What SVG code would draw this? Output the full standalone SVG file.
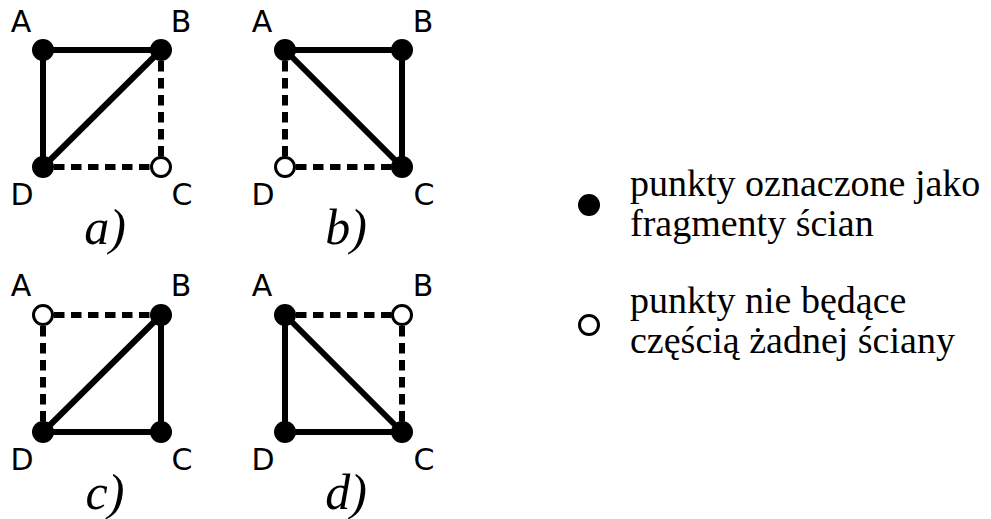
<svg xmlns="http://www.w3.org/2000/svg" width="991" height="519" viewBox="0 0 991 519">
<style>
.s{stroke:#000;stroke-width:6;fill:none}
.d{stroke:#000;stroke-width:6;fill:none;stroke-dasharray:10.5 6.5}
.f{fill:#000}
.o{fill:#fff;stroke:#000;stroke-width:3}
.lab{font-family:"DejaVu Sans",sans-serif;font-size:30px;fill:#000;text-anchor:middle}
.cap{font-family:"Liberation Serif",serif;font-style:italic;font-size:50px;fill:#000;text-anchor:middle}
.leg{font-family:"Liberation Serif",serif;font-size:38px;fill:#000}
</style>
<rect width="991" height="519" fill="#fff"/>
<g id="connectors">
<line class="s" x1="43" y1="50" x2="161" y2="50"/>
<line class="s" x1="43" y1="50" x2="43" y2="167"/>
<line class="s" x1="43" y1="167" x2="161" y2="50"/>
<line class="d" x1="161" y1="61" x2="161" y2="167"/>
<line class="d" x1="54" y1="167" x2="161" y2="167"/>
<line class="s" x1="285" y1="50" x2="402" y2="50"/>
<line class="s" x1="402" y1="50" x2="402" y2="167"/>
<line class="s" x1="285" y1="50" x2="402" y2="167"/>
<line class="d" x1="285" y1="61" x2="285" y2="167"/>
<line class="d" x1="296" y1="167" x2="402" y2="167"/>
<line class="d" x1="54" y1="315" x2="161" y2="315"/>
<line class="d" x1="43" y1="326" x2="43" y2="432"/>
<line class="s" x1="43" y1="432" x2="161" y2="315"/>
<line class="s" x1="161" y1="315" x2="161" y2="432"/>
<line class="s" x1="43" y1="432" x2="161" y2="432"/>
<line class="d" x1="296" y1="315" x2="402" y2="315"/>
<line class="d" x1="402" y1="326" x2="402" y2="432"/>
<line class="s" x1="285" y1="315" x2="402" y2="432"/>
<line class="s" x1="285" y1="315" x2="285" y2="432"/>
<line class="s" x1="285" y1="432" x2="402" y2="432"/>
</g>
<g id="panel-a">
<circle class="f" cx="43" cy="50" r="11"/>
<circle class="f" cx="161" cy="50" r="11"/>
<circle class="f" cx="43" cy="167" r="11"/>
<circle class="o" cx="161" cy="167" r="9.5"/>
<text class="lab" x="21" y="32">A</text>
<text class="lab" x="181" y="32">B</text>
<text class="lab" x="22" y="205">D</text>
<text class="lab" x="182" y="205">C</text>
<text class="cap" x="105" y="244">a)</text>
</g>
<g id="panel-b">
<circle class="f" cx="285" cy="50" r="11"/>
<circle class="f" cx="402" cy="50" r="11"/>
<circle class="o" cx="285" cy="167" r="9.5"/>
<circle class="f" cx="402" cy="167" r="11"/>
<text class="lab" x="262" y="32">A</text>
<text class="lab" x="423" y="32">B</text>
<text class="lab" x="263" y="205">D</text>
<text class="lab" x="424" y="205">C</text>
<text class="cap" x="346" y="244">b)</text>
</g>
<g id="panel-c">
<circle class="o" cx="43" cy="315" r="9.5"/>
<circle class="f" cx="161" cy="315" r="11"/>
<circle class="f" cx="43" cy="432" r="11"/>
<circle class="f" cx="161" cy="432" r="11"/>
<text class="lab" x="21" y="296">A</text>
<text class="lab" x="181" y="296">B</text>
<text class="lab" x="22" y="470">D</text>
<text class="lab" x="182" y="470">C</text>
<text class="cap" x="105" y="509">c)</text>
</g>
<g id="panel-d">
<circle class="f" cx="285" cy="315" r="11"/>
<circle class="o" cx="402" cy="315" r="9.5"/>
<circle class="f" cx="285" cy="432" r="11"/>
<circle class="f" cx="402" cy="432" r="11"/>
<text class="lab" x="262" y="296">A</text>
<text class="lab" x="423" y="296">B</text>
<text class="lab" x="263" y="470">D</text>
<text class="lab" x="424" y="470">C</text>
<text class="cap" x="346" y="509">d)</text>
</g>
<g id="legend-filled">
<circle class="f" cx="589" cy="205" r="11"/>
<text class="leg" x="630" y="196">punkty oznaczone jako</text>
<text class="leg" x="630" y="236">fragmenty ścian</text>
</g>
<g id="legend-open">
<circle class="o" cx="589" cy="325" r="9.5"/>
<text class="leg" x="630" y="313">punkty nie będące</text>
<text class="leg" x="630" y="353">częścią żadnej ściany</text>
</g>
</svg>
